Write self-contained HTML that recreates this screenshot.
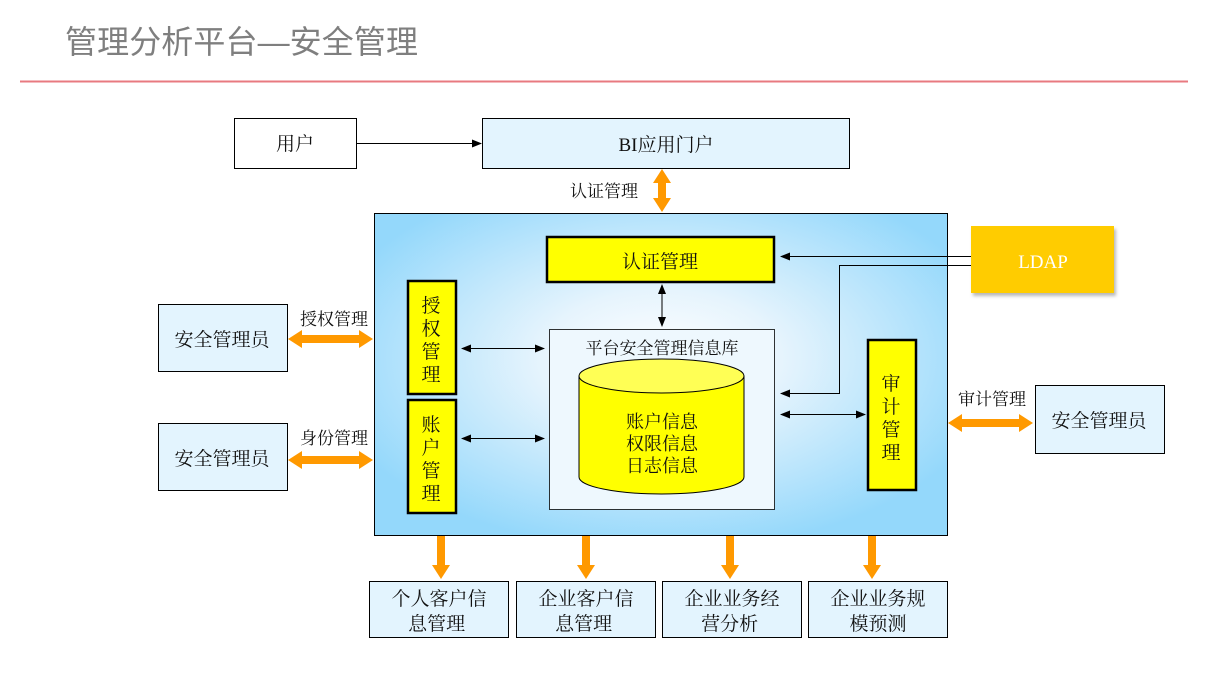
<!DOCTYPE html>
<html><head><meta charset="utf-8"><style>
html,body{margin:0;padding:0;background:#fff;}
svg{display:block;}
text{font-family:"Liberation Serif","Noto Serif CJK SC","Noto Sans CJK SC",serif;fill:#111;}
.s{font-family:"Liberation Sans","Noto Sans CJK SC",sans-serif;}
</style></head><body>
<svg width="1209" height="680" viewBox="0 0 1209 680" xmlns="http://www.w3.org/2000/svg">
<defs>
<radialGradient id="g" cx="50%" cy="45%" r="60%">
<stop offset="0" stop-color="#ffffff"/>
<stop offset="0.35" stop-color="#e6f4fd"/>
<stop offset="1" stop-color="#94d8fb"/>
</radialGradient>
<marker id="a" markerWidth="10" markerHeight="8" refX="9" refY="4" orient="auto" markerUnits="userSpaceOnUse"><path d="M0,0 L10,4 L0,8z" fill="#000"/></marker>
<marker id="b" markerWidth="10" markerHeight="8" refX="1" refY="4" orient="auto" markerUnits="userSpaceOnUse"><path d="M10,0 L0,4 L10,8z" fill="#000"/></marker>
<filter id="sh"><feDropShadow dx="2" dy="3" stdDeviation="1.5" flood-color="#888" flood-opacity="0.6"/></filter>
</defs>
<text x="65" y="53" class="s" font-size="32" textLength="353" style="fill:#7f7f7f">管理分析平台—安全管理</text>
<line x1="20" y1="81.5" x2="1188" y2="81.5" stroke="#e87a80" stroke-width="2"/>

<rect x="234.5" y="118.5" width="122" height="50" fill="#fff" stroke="#000"/>
<text x="295" y="150" font-size="19" text-anchor="middle">用户</text>
<rect x="482.5" y="118.5" width="367" height="50" fill="#e3f4fe" stroke="#000"/>
<text x="666" y="151" font-size="19" text-anchor="middle">BI应用门户</text>
<line x1="357" y1="143.5" x2="481" y2="143.5" stroke="#000" marker-end="url(#a)"/>
<text x="604" y="197" font-size="17" text-anchor="middle">认证管理</text>

<rect x="374.5" y="213.5" width="573" height="322" fill="url(#g)" stroke="#000"/>

<g fill="#ff9900">
<path d="M662,169 L671,183 L666,183 L666,198 L671,198 L662,212 L653,198 L658,198 L658,183 L653,183z"/>
<path d="M288,339 L302,330 L302,335 L359,335 L359,330 L373,339 L359,348 L359,343 L302,343 L302,348z"/>
<path d="M288,460 L302,451 L302,456 L359,456 L359,451 L373,460 L359,469 L359,464 L302,464 L302,469z"/>
<path d="M948,423 L962,414 L962,419 L1019,419 L1019,414 L1033,423 L1019,432 L1019,427 L962,427 L962,432z"/>
<path d="M437,536 L445,536 L445,565 L450,565 L441,579 L432,565 L437,565z"/>
<path d="M582,536 L590,536 L590,565 L595,565 L586,579 L577,565 L582,565z"/>
<path d="M726,536 L734,536 L734,565 L739,565 L730,579 L721,565 L726,565z"/>
<path d="M868,536 L876,536 L876,565 L881,565 L872,579 L863,565 L868,565z"/>
</g>

<rect x="547" y="237" width="227" height="45" fill="#ffff00" stroke="#000" stroke-width="2.5"/>
<text x="660" y="268" font-size="19" text-anchor="middle">认证管理</text>

<rect x="408" y="281" width="48" height="113" fill="#ffff00" stroke="#000" stroke-width="2.5"/>
<text font-size="19" text-anchor="middle"><tspan x="431" y="312">授</tspan><tspan x="431" y="335">权</tspan><tspan x="431" y="358">管</tspan><tspan x="431" y="381">理</tspan></text>
<rect x="408" y="400" width="48" height="113" fill="#ffff00" stroke="#000" stroke-width="2.5"/>
<text font-size="19" text-anchor="middle"><tspan x="431" y="431">账</tspan><tspan x="431" y="454">户</tspan><tspan x="431" y="477">管</tspan><tspan x="431" y="500">理</tspan></text>
<rect x="868" y="340" width="48" height="150" fill="#ffff00" stroke="#000" stroke-width="2.5"/>
<text font-size="19" text-anchor="middle"><tspan x="891" y="390">审</tspan><tspan x="891" y="413">计</tspan><tspan x="891" y="436">管</tspan><tspan x="891" y="459">理</tspan></text>

<rect x="549.5" y="329.5" width="225" height="180" fill="#eef8fe" stroke="#000" stroke-width="0.8"/>
<text x="662" y="354" font-size="17" text-anchor="middle">平台安全管理信息库</text>
<path d="M579,376 L579,477 A82.5,17 0 0 0 744,477 L744,376z" fill="#ffff00" stroke="#000"/>
<ellipse cx="661.5" cy="376" rx="82.5" ry="17" fill="#ffff55" stroke="#000"/>
<text font-size="18" text-anchor="middle"><tspan x="662" y="428">账户信息</tspan><tspan x="662" y="450">权限信息</tspan><tspan x="662" y="472">日志信息</tspan></text>

<g stroke="#000" fill="none">
<line x1="662" y1="285" x2="662" y2="326" marker-start="url(#b)" marker-end="url(#a)"/>
<line x1="462" y1="348.5" x2="544" y2="348.5" marker-start="url(#b)" marker-end="url(#a)"/>
<line x1="462" y1="438.5" x2="544" y2="438.5" marker-start="url(#b)" marker-end="url(#a)"/>
<line x1="781" y1="414.5" x2="865" y2="414.5" marker-start="url(#b)" marker-end="url(#a)"/>
<line x1="971" y1="256.5" x2="781" y2="256.5" marker-end="url(#a)"/>
<polyline points="971,265.5 839.5,265.5 839.5,393.5 781,393.5" marker-end="url(#a)"/>
</g>

<rect x="971" y="226" width="143" height="67" fill="#ffcc00" filter="url(#sh)"/>
<text x="1043" y="268" font-size="19" text-anchor="middle" style="fill:#fff">LDAP</text>

<rect x="158.5" y="304.5" width="129" height="67" fill="#e3f4fe" stroke="#000"/>
<text x="222" y="346" font-size="19" text-anchor="middle">安全管理员</text>
<rect x="158.5" y="423.5" width="129" height="67" fill="#e3f4fe" stroke="#000"/>
<text x="222" y="465" font-size="19" text-anchor="middle">安全管理员</text>
<rect x="1035.5" y="385.5" width="129" height="68" fill="#e3f4fe" stroke="#000"/>
<text x="1099" y="427" font-size="19" text-anchor="middle">安全管理员</text>
<text x="334" y="325" font-size="17" text-anchor="middle">授权管理</text>
<text x="334" y="444" font-size="17" text-anchor="middle">身份管理</text>
<text x="992" y="405" font-size="17" text-anchor="middle">审计管理</text>

<g fill="#e3f4fe" stroke="#000">
<rect x="369.5" y="581.5" width="139" height="56"/>
<rect x="516.5" y="581.5" width="139" height="56"/>
<rect x="662.5" y="581.5" width="139" height="56"/>
<rect x="808.5" y="581.5" width="139" height="56"/>
</g>
<text font-size="19" text-anchor="middle">
<tspan x="439" y="605">个人客户信</tspan><tspan x="439" y="630">息管理</tspan>
<tspan x="586" y="605">企业客户信</tspan><tspan x="586" y="630">息管理</tspan>
<tspan x="732" y="605">企业业务经</tspan><tspan x="732" y="630">营分析</tspan>
<tspan x="878" y="605">企业业务规</tspan><tspan x="878" y="630">模预测</tspan>
</text>
</svg>
</body></html>
